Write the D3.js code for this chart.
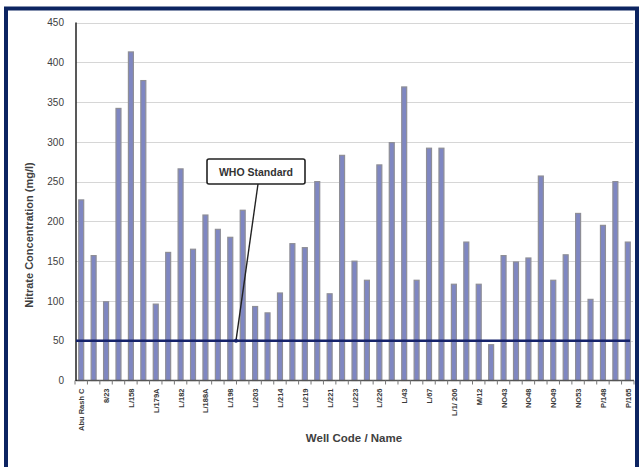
<!DOCTYPE html>
<html>
<head>
<meta charset="utf-8">
<script src="https://cdn.jsdelivr.net/npm/d3@7"></script>
<style>
  html, body { margin: 0; padding: 0; background: #fff; }
  svg { display: block; }
  text { font-family: "Liberation Sans", Arial, sans-serif; }
</style>
</head>
<body>
<script>
// ---- Data ----
// Nitrate concentration (mg/l) for each of the 45 wells, left to right
const nitrate = [227, 157, 99, 342, 413, 377, 96, 161, 266, 165,
                 208, 190, 180, 214, 93, 85, 110, 172, 167, 250,
                 109, 283, 150, 126, 271, 299, 369, 126, 292, 292,
                 121, 174, 121, 45, 157, 149, 154, 257, 126, 158,
                 210, 102, 195, 250, 174];
// Category labels shown on every other bar (1st, 3rd, 5th, ...)
const wellLabels = ["Abu Rash C", "8/23", "L/158", "L/179A", "L/182", "L/188A",
                    "L/198", "L/203", "L/214", "L/219", "L/221", "L/223", "L/226",
                    "L/43", "L/67", "L/1/ 206", "M/12", "NO43", "NO48", "NO49",
                    "NO53", "P/148", "P/165"];
const yTicks = [0, 50, 100, 150, 200, 250, 300, 350, 400, 450];
const whoStandard = 50;
const whoLabel = "WHO Standard";
const yTitle = "Nitrate Concentration (mg/l)";
const xTitle = "Well Code / Name";

// ---- Layout ----
const W = 642, H = 467;
const svg = d3.select("body").append("svg").attr("width", W).attr("height", H);

// outer navy frame
svg.append("rect").attr("x", 6).attr("y", 8.5).attr("width", 631).attr("height", 470)
  .attr("fill", "#fff").attr("stroke", "#0c2461").attr("stroke-width", 4);

const plot = { left: 76, right: 634, top: 22.5, bottom: 380.5 };

const x = d3.scaleBand()
  .domain(d3.range(nitrate.length))
  .range([plot.left - 1, plot.right])
  .paddingInner(0.6).paddingOuter(0.3);

const y = d3.scaleLinear().domain([0, 450]).range([plot.bottom, plot.top]);

// gridlines
svg.append("g").selectAll("line").data(yTicks.filter(d => d > 0)).join("line")
  .attr("x1", plot.left).attr("x2", plot.right - 1)
  .attr("y1", d => Math.round(y(d)) + 0.5).attr("y2", d => Math.round(y(d)) + 0.5)
  .attr("stroke", "#d6d6d6").attr("stroke-width", 1.2);

// y axis labels
const yAxis = d3.axisLeft(y).tickValues(yTicks).tickSize(0).tickPadding(12);
const gy = svg.append("g").attr("transform", `translate(${plot.left},0)`).call(yAxis);
gy.select(".domain").remove();
gy.selectAll("text").attr("font-size", 10).attr("fill", "#404040")
  .attr("font-family", "'Open Sans', sans-serif");

// bars
svg.append("g").selectAll("rect").data(nitrate).join("rect")
  .attr("x", (d, i) => x(i))
  .attr("width", x.bandwidth())
  .attr("y", d => y(d))
  .attr("height", d => y(0) - y(d))
  .attr("fill", "#7f87c2")
  .attr("stroke", "#8e8e96")
  .attr("stroke-width", 1.2);

// x axis line
svg.append("line").attr("x1", plot.left).attr("x2", plot.right)
  .attr("y1", plot.bottom).attr("y2", plot.bottom)
  .attr("stroke", "#555").attr("stroke-width", 1.3);

// category tick marks between bars
const step = x.step();
const edge = i => x(0) - (x.paddingInner() * step) / 2 + i * step;
svg.append("g").selectAll("line").data(d3.range(nitrate.length + 1)).join("line")
  .attr("x1", edge).attr("x2", edge)
  .attr("y1", plot.bottom).attr("y2", plot.bottom + 4)
  .attr("stroke", "#777").attr("stroke-width", 1);

// y axis line
svg.append("line").attr("x1", plot.left).attr("x2", plot.left)
  .attr("y1", y(450)).attr("y2", plot.bottom + 0.5)
  .attr("stroke", "#222").attr("stroke-width", 1.5);

// x labels (every other bar)
svg.append("g").selectAll("text").data(wellLabels).join("text")
  .attr("transform", (d, k) => `translate(${x(k * 2) + x.bandwidth() / 2 + 3},${plot.bottom + 8}) rotate(-90)`)
  .attr("text-anchor", "end")
  .attr("font-size", 7.5)
  .attr("font-weight", "bold")
  .attr("fill", "#3a3a3a")
  .text(d => d);

// WHO standard line
svg.append("line").attr("x1", plot.left).attr("x2", plot.right - 4)
  .attr("y1", y(whoStandard)).attr("y2", y(whoStandard))
  .attr("stroke", "#16236a").attr("stroke-width", 2.6);

// annotation
const bx = 207, by = 159, bw = 98, bh = 25;
const ax = (x(12) + x(13)) / 2 + 2;
svg.append("line")
  .attr("x1", bx + bw / 2 + 2).attr("y1", by + bh)
  .attr("x2", ax).attr("y2", y(whoStandard))
  .attr("stroke", "#222").attr("stroke-width", 1.4);
svg.append("circle").attr("cx", ax).attr("cy", y(whoStandard))
  .attr("r", 2).attr("fill", "#16236a");
svg.append("rect").attr("x", bx).attr("y", by).attr("width", bw).attr("height", bh)
  .attr("rx", 2).attr("fill", "#fff").attr("stroke", "#222").attr("stroke-width", 1.6);
svg.append("text").attr("x", bx + bw / 2).attr("y", by + bh / 2 + 4)
  .attr("text-anchor", "middle").attr("font-size", 10.5).attr("font-weight", "bold")
  .attr("fill", "#333").text(whoLabel);

// axis titles
svg.append("text")
  .attr("transform", `translate(33,235) rotate(-90)`)
  .attr("text-anchor", "middle").attr("font-size", 11).attr("font-weight", "bold")
  .attr("fill", "#404040").text(yTitle);
svg.append("text").attr("x", 354).attr("y", 442)
  .attr("text-anchor", "middle").attr("font-size", 11.5).attr("font-weight", "bold")
  .attr("fill", "#404040").text(xTitle);
</script>
</body>
</html>
